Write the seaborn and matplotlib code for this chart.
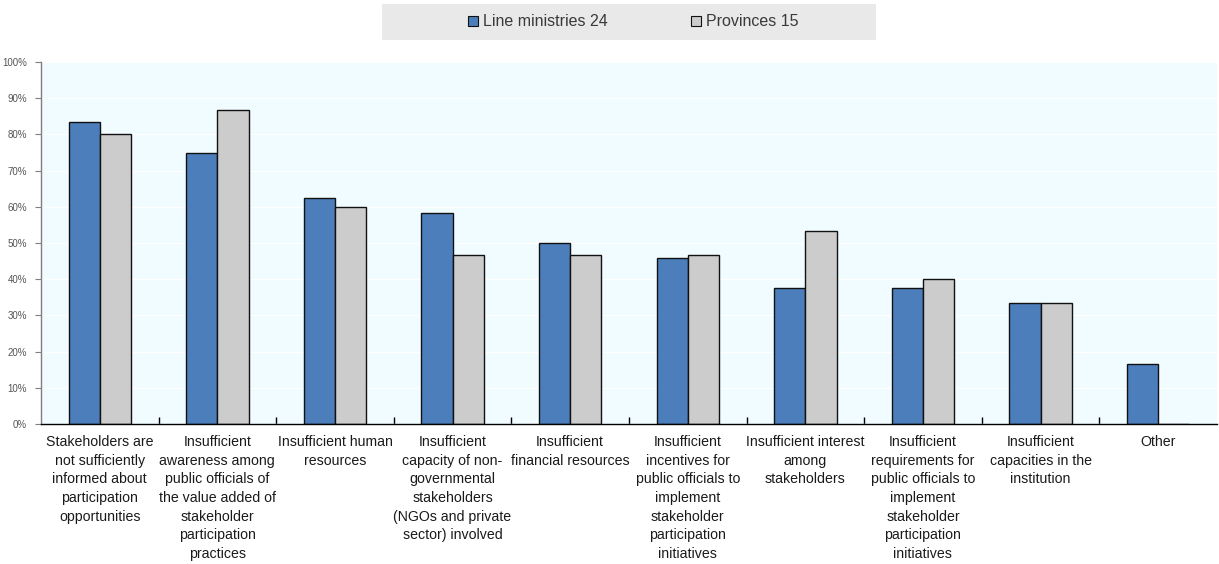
import matplotlib
matplotlib.use("Agg")
import matplotlib.pyplot as plt
import seaborn as sns
import pandas as pd
import numpy as np
from matplotlib.ticker import FixedLocator, PercentFormatter
from matplotlib.patches import Patch, Rectangle

categories = [
    "Stakeholders are\nnot sufficiently\ninformed about\nparticipation\nopportunities",
    "Insufficient\nawareness among\npublic officials of\nthe value added of\nstakeholder\nparticipation\npractices",
    "Insufficient human\nresources",
    "Insufficient\ncapacity of non-\ngovernmental\nstakeholders\n(NGOs and private\nsector) involved",
    "Insufficient\nfinancial resources",
    "Insufficient\nincentives for\npublic officials to\nimplement\nstakeholder\nparticipation\ninitiatives",
    "Insufficient interest\namong\nstakeholders",
    "Insufficient\nrequirements for\npublic officials to\nimplement\nstakeholder\nparticipation\ninitiatives",
    "Insufficient\ncapacities in the\ninstitution",
    "Other",
]
line_ministries = [83.3, 75.0, 62.5, 58.3, 50.0, 45.8, 37.5, 37.5, 33.3, 16.7]
provinces = [80.0, 86.7, 60.0, 46.7, 46.7, 46.7, 53.3, 40.0, 33.3, 0.0]
series_names = ["Line ministries 24", "Provinces 15"]
yticks = [0, 10, 20, 30, 40, 50, 60, 70, 80, 90, 100]

colors = ["#4C7EBB", "#CCCCCC"]

df = pd.DataFrame({
    "category": categories * 2,
    "value": line_ministries + provinces,
    "series": [series_names[0]] * len(categories) + [series_names[1]] * len(categories),
})

sns.set_theme(style="white")
plt.rcParams["font.family"] = ["Liberation Sans", "DejaVu Sans"]

fig = plt.figure(figsize=(12.19, 5.64), dpi=100)
ax = fig.add_axes([0.0336, 0.2482, 0.9647, 0.6418])
ax.set_facecolor("#F0FCFF")

sns.barplot(data=df, x="category", y="value", hue="series", order=categories,
            hue_order=series_names, palette=colors, width=0.53,
            edgecolor="#111111", linewidth=1.0, saturation=1, ax=ax,
            legend=False)

ax.set_ylim(0, 100)
ax.set_xlim(-0.5, len(categories) - 0.5)
ax.yaxis.set_major_locator(FixedLocator(yticks))
ax.yaxis.set_major_formatter(PercentFormatter(decimals=0))
ax.grid(axis="y", color="white", linewidth=1.0)
ax.set_axisbelow(True)

for s in ["top", "right"]:
    ax.spines[s].set_visible(False)
ax.spines["left"].set_color("#7F7F7F")
ax.spines["left"].set_linewidth(1.0)
ax.spines["bottom"].set_color("#000000")
ax.spines["bottom"].set_linewidth(1.0)
ax.spines["bottom"].set_zorder(5)

ax.tick_params(axis="y", which="major", direction="out", length=4, width=0.8,
               color="#7F7F7F", labelsize=7, labelcolor="#555555", pad=6, left=True)
ax.tick_params(axis="x", which="major", length=0, labelsize=10.2,
               labelcolor="#1A1A1A", pad=8)
ax.xaxis.set_minor_locator(FixedLocator(np.arange(0.5, len(categories) - 0.5, 1)))
ax.tick_params(axis="x", which="minor", direction="in", length=5, width=1.0,
               color="#000000", bottom=True)
for lbl in ax.get_xticklabels():
    lbl.set_linespacing(1.42)
    lbl.set_verticalalignment("top")
ax.set_xlabel("")
ax.set_ylabel("")

# Legend panel above the plot
fig.patches.append(Rectangle((382 / 1219, 1 - 40 / 564), 494 / 1219, 36 / 564,
                             transform=fig.transFigure, facecolor="#E9E9E9",
                             edgecolor="none", zorder=0))
handles = [Patch(facecolor=c, edgecolor="#111111", linewidth=0.8) for c in colors]
leg = fig.legend(handles, series_names, loc="center", bbox_to_anchor=(0.5195, 0.961),
                 ncol=2, frameon=False, fontsize=11.5, handlelength=0.65,
                 handleheight=0.65, handletextpad=0.3, columnspacing=5.2)
for t in leg.get_texts():
    t.set_color("#3A3A3A")

fig.savefig("out.png", dpi=100, facecolor="white")
